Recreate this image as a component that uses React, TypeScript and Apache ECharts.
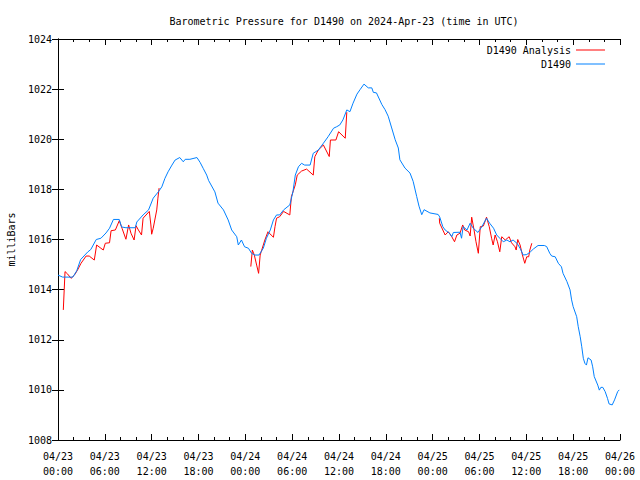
import React, { useEffect, useRef } from "react";
import * as echarts from "echarts";

// Hours since 2024-04-23 00:00 UTC
const blueHours = [
  0.0, 0.6, 1.9, 2.4, 2.9, 3.8, 4.2, 4.9, 5.5, 6.15, 6.6, 7.1, 7.85, 8.15, 8.7, 9.9, 10.1, 10.9, 11.6, 12.2,
  12.85, 13.3, 13.7, 14.1, 14.6, 15.0, 15.6, 16.05, 16.3, 16.9, 17.8, 18.2, 18.6, 19.05, 19.3, 20.1, 20.5, 21.2,
  21.8, 22.25, 22.9, 23.1, 23.5, 23.9, 24.4, 24.8, 25.2, 25.75, 26.3, 26.7, 27.2, 27.6, 28.0, 28.4, 28.9, 29.7,
  30.1, 30.4, 30.8, 31.2, 31.6, 32.3, 32.7, 33.35, 34.0, 34.6, 35.3, 35.7, 36.1, 36.5, 37.0, 37.4, 37.8, 38.3,
  38.7, 39.2, 39.75, 40.2, 40.4, 40.8, 41.5, 41.9, 42.3, 42.75, 43.2, 43.6, 43.8, 44.45, 45.1, 45.5, 45.95,
  46.25, 46.6, 46.9, 47.65, 48.7, 48.9, 49.3, 49.6, 50.2, 50.45, 50.65, 51.5, 51.7, 51.9, 52.4, 52.8, 53.2, 53.8,
  54.3, 54.9, 55.3, 55.8, 56.2, 56.6, 57.05, 57.5, 57.9, 58.3, 58.8, 59.2, 59.6, 60.05, 60.5, 60.9, 61.5, 62.3,
  62.6, 63.0, 63.25, 63.7, 64.1, 64.5, 64.7, 65.2, 65.6, 65.8, 66.0, 66.45, 66.65, 66.9, 67.1, 67.3, 67.5, 67.7,
  67.9, 68.3, 68.5, 68.7, 69.15, 69.35, 69.55, 69.8, 70.1, 70.4, 70.6, 71.0, 71.3, 71.7, 71.9,
];
const bluePressure = [
  1014.58, 1014.5, 1014.5, 1014.75, 1015.2, 1015.5, 1015.6, 1016.0, 1016.05, 1016.26, 1016.45, 1016.8, 1016.8,
  1016.5, 1016.47, 1016.47, 1016.7, 1016.98, 1017.18, 1017.65, 1017.9, 1018.1, 1018.44, 1018.7, 1018.97, 1019.17,
  1019.27, 1019.1, 1019.2, 1019.2, 1019.27, 1019.08, 1018.84, 1018.57, 1018.35, 1017.9, 1017.45, 1017.18, 1016.78,
  1016.38, 1016.11, 1015.78, 1015.98, 1015.71, 1015.65, 1015.45, 1015.38, 1015.38, 1015.65, 1016.05, 1016.38,
  1016.78, 1016.98, 1016.98, 1017.18, 1017.38, 1017.9, 1018.57, 1018.9, 1019.04, 1018.97, 1018.97, 1019.44,
  1019.57, 1019.84, 1020.1, 1020.44, 1020.5, 1020.57, 1020.77, 1021.17, 1021.1, 1021.44, 1021.8, 1021.98, 1022.2,
  1022.05, 1022.05, 1021.87, 1021.85, 1021.38, 1021.18, 1020.92, 1020.45, 1019.98, 1019.65, 1019.18, 1018.85,
  1018.65, 1018.32, 1017.72, 1017.33, 1016.99, 1017.19, 1017.06, 1017.0, 1016.9, 1016.51, 1016.38, 1016.24,
  1016.11, 1016.28, 1016.29, 1016.05, 1016.51, 1016.38, 1016.65, 1016.45, 1016.28, 1016.51, 1016.85, 1016.65,
  1016.45, 1016.18, 1016.05, 1015.91, 1015.98, 1015.91, 1015.98, 1015.85, 1015.65, 1015.38, 1015.4, 1015.5,
  1015.62, 1015.76, 1015.76, 1015.72, 1015.45, 1015.34, 1015.31, 1015.05, 1014.91, 1014.65, 1014.32, 1013.99,
  1013.59, 1013.32, 1012.92, 1012.52, 1012.12, 1011.72, 1011.26, 1011.06, 1010.99, 1011.28, 1011.19, 1010.92,
  1010.53, 1010.19, 1009.99, 1010.1, 1010.1, 1009.93, 1009.66, 1009.44, 1009.4, 1009.6, 1009.93, 1010.0,
];

// null pressure = gap in the analysis line
const redHours = [
  0.68, 0.9, 1.24, 1.67, 2.1, 2.5, 2.95, 3.6, 4.0, 4.65, 4.95, 5.5, 5.8, 6.06, 6.6, 6.8, 7.35, 7.85, 8.2, 8.7,
  9.05, 9.35, 9.75, 10.0, 10.3, 10.7, 10.9, 11.7, 11.9, 12.0, 12.2, 12.65, 12.8, 12.95,
  18.0,
  24.7, 24.9, 25.15, 25.45, 25.7, 25.9, 26.1, 26.5, 26.9, 27.3, 27.6, 27.8, 28.0, 28.4, 28.9, 29.7, 29.9, 30.4,
  30.65, 31.2, 31.85, 32.7, 32.9, 33.35, 34.0, 34.75, 34.9, 35.6, 35.95, 36.8, 37.0,
  43.0,
  48.85, 48.9, 49.6, 50.0, 50.45, 50.8, 51.1, 51.5, 51.85, 52.1, 52.6, 52.8, 53.0, 53.3, 53.55, 53.85, 54.1, 54.5,
  54.9, 55.25, 55.55, 55.75, 56.0, 56.3, 56.6, 56.85, 57.3, 57.8, 58.1, 58.55, 58.7, 58.9, 59.2, 59.5, 59.8,
  60.05, 60.3, 60.45, 60.7,
];
const redPressure: (number | null)[] = [
  1013.19, 1014.72, 1014.62, 1014.45, 1014.58, 1014.78, 1015.05, 1015.34, 1015.34, 1015.18, 1015.78, 1015.65,
  1015.58, 1015.85, 1015.87, 1016.35, 1016.38, 1016.75, 1016.45, 1016.01, 1016.58, 1016.25, 1015.98, 1016.55,
  1016.38, 1016.18, 1016.85, 1017.12, 1016.58, 1016.21, 1016.45, 1017.18, 1017.65, 1018.05,
  null,
  1014.92, 1015.58, 1015.38, 1014.98, 1014.65, 1015.38, 1015.58, 1015.98, 1016.31, 1016.18, 1016.09, 1016.51,
  1016.85, 1016.91, 1017.12, 1016.98, 1017.71, 1018.18, 1018.57, 1018.73, 1018.81, 1018.57, 1019.3, 1019.57,
  1019.77, 1019.31, 1019.97, 1019.97, 1020.3, 1020.04, 1021.08,
  null,
  1016.85, 1016.65, 1016.18, 1016.31, 1016.11, 1015.91, 1016.18, 1016.25, 1016.58, 1016.38, 1016.31, 1016.14,
  1016.89, 1016.38, 1015.91, 1015.45, 1016.51, 1016.54, 1016.89, 1016.51, 1016.05, 1015.78, 1016.18, 1015.91,
  1015.51, 1016.11, 1015.98, 1016.11, 1015.87, 1015.71, 1015.58, 1016.0, 1015.78, 1015.38, 1015.05, 1015.31,
  1015.31, 1015.58, 1015.85,
];

const FONT = "DejaVu Sans Mono";

function hourLabel(h: number): string {
  const day = 23 + Math.floor(h / 24);
  const hr = Math.round(h % 24);
  return "04/" + day + "\n" + (hr < 10 ? "0" + hr : "" + hr) + ":00";
}

export default function App() {
  const ref = useRef<HTMLDivElement>(null);
  useEffect(() => {
    if (!ref.current) return;
    const chart = echarts.init(ref.current, undefined, { renderer: "svg" });
    const blueData = blueHours.map((h, i) => [h, bluePressure[i]]);
    const redData = redHours.map((h, i) => [h, redPressure[i]]);
    const axisLine = { show: true, lineStyle: { color: "#000", width: 1 } };
    const tick = { show: true, inside: true, length: 6, lineStyle: { color: "#000" } };
    const minor = { show: true, splitNumber: 3, length: 3, lineStyle: { color: "#000" } };
    const legendText = { fontFamily: FONT, fontSize: 10, color: "#000" };
    chart.setOption({
      animation: false,
      backgroundColor: "#fff",
      title: {
        text: "Barometric Pressure for D1490 on 2024-Apr-23 (time in UTC)",
        left: 339,
        textAlign: "center",
        top: 11,
        textStyle: { fontFamily: FONT, fontSize: 10, fontWeight: "normal", color: "#000" },
      },
      legend: [
        {
          data: ["D1490 Analysis"],
          right: 30,
          top: 40,
          align: "right",
          icon: "rect",
          itemWidth: 29,
          itemHeight: 1,
          textStyle: legendText,
        },
        {
          data: ["D1490"],
          right: 30,
          top: 54,
          align: "right",
          icon: "rect",
          itemWidth: 29,
          itemHeight: 1,
          textStyle: legendText,
        },
      ],
      grid: { left: 58, right: 20, top: 39, bottom: 40, containLabel: false, outerBoundsMode: "none" },
      xAxis: [
        {
          type: "value",
          min: 0,
          max: 72,
          interval: 6,
          position: "bottom",
          axisLine,
          axisTick: tick,
          minorTick: minor,
          splitLine: { show: false },
          axisLabel: {
            fontFamily: FONT,
            fontSize: 10,
            color: "#000",
            lineHeight: 15,
            margin: 9,
            formatter: (v: number) => hourLabel(v),
          },
        },
        {
          type: "value",
          min: 0,
          max: 72,
          interval: 6,
          position: "top",
          axisLine,
          axisTick: tick,
          minorTick: minor,
          splitLine: { show: false },
          axisLabel: { show: false },
        },
      ],
      yAxis: [
        {
          type: "value",
          min: 1008,
          max: 1024,
          interval: 2,
          position: "left",
          name: "milliBars",
          nameLocation: "middle",
          nameRotate: 90,
          nameGap: 42,
          nameTextStyle: { fontFamily: FONT, fontSize: 10, color: "#000" },
          axisLine,
          axisTick: tick,
          splitLine: { show: false },
          axisLabel: {
            fontFamily: FONT,
            fontSize: 10,
            color: "#000",
            margin: 6,
            formatter: (v: number) => String(v),
          },
        },
        {
          type: "value",
          min: 1008,
          max: 1024,
          interval: 2,
          position: "right",
          axisLine,
          axisTick: tick,
          splitLine: { show: false },
          axisLabel: { show: false },
        },
      ],
      series: [
        {
          name: "D1490 Analysis",
          type: "line",
          data: redData,
          symbol: "none",
          connectNulls: false,
          lineStyle: { color: "#ff0000", width: 1 },
          itemStyle: { color: "#ff0000" },
        },
        {
          name: "D1490",
          type: "line",
          data: blueData,
          symbol: "none",
          lineStyle: { color: "#0080ff", width: 1 },
          itemStyle: { color: "#0080ff" },
        },
      ],
    });
    return () => chart.dispose();
  }, []);
  return <div ref={ref} style={{ width: 640, height: 480, position: "absolute", left: 0, top: 0 }} />;
}
